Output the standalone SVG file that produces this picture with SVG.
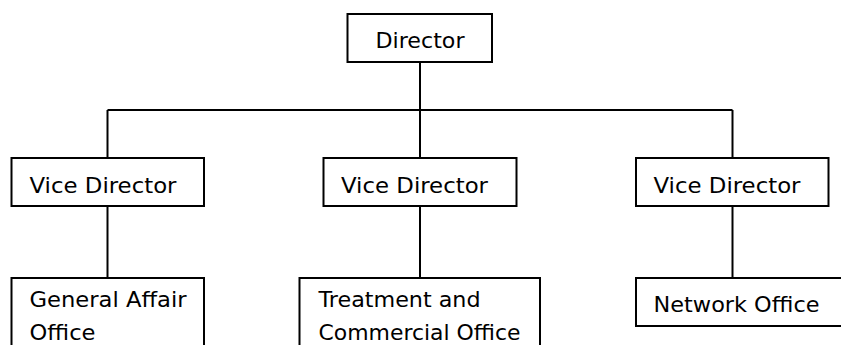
<svg xmlns="http://www.w3.org/2000/svg" width="841" height="345" viewBox="0 0 841 345">
<style>
.box{fill:#fff;stroke:#000;stroke-width:2}
.ln{stroke:#000;stroke-width:2;fill:none}
text{font-family:"DejaVu Sans","Noto Sans CJK JP",sans-serif;font-size:22px;fill:#000}
</style>
<rect width="841" height="345" fill="#fff"/>
<g id="connectors">
<line class="ln" x1="420" y1="62" x2="420" y2="110"/>
<line class="ln" x1="107.5" y1="110" x2="732.5" y2="110"/>
<line class="ln" x1="107.5" y1="110" x2="107.5" y2="158"/>
<line class="ln" x1="420" y1="110" x2="420" y2="158"/>
<line class="ln" x1="732.5" y1="110" x2="732.5" y2="158"/>
<line class="ln" x1="107.5" y1="206" x2="107.5" y2="278"/>
<line class="ln" x1="420" y1="206" x2="420" y2="278"/>
<line class="ln" x1="732.5" y1="206" x2="732.5" y2="278"/>
</g>
<g id="director">
<rect class="box" x="347.5" y="14" width="144.5" height="48"/>
<text x="375.5" y="48" textLength="89" lengthAdjust="spacingAndGlyphs">Director</text>
</g>
<g id="vice1">
<rect class="box" x="11.5" y="158" width="192.5" height="48"/>
<text x="29.5" y="192.5" textLength="147" lengthAdjust="spacingAndGlyphs">Vice Director</text>
</g>
<g id="vice2">
<rect class="box" x="323.5" y="158" width="193" height="48"/>
<text x="341" y="192.5" textLength="147" lengthAdjust="spacingAndGlyphs">Vice Director</text>
</g>
<g id="vice3">
<rect class="box" x="636" y="158" width="192.5" height="48"/>
<text x="653.5" y="192.5" textLength="147" lengthAdjust="spacingAndGlyphs">Vice Director</text>
</g>
<g id="general-affair">
<rect class="box" x="11.5" y="278" width="192.5" height="80"/>
<text x="29.5" y="306.5" textLength="157" lengthAdjust="spacingAndGlyphs">General  Affair</text>
<text x="29.5" y="340" textLength="66" lengthAdjust="spacingAndGlyphs">Office</text>
</g>
<g id="treatment">
<rect class="box" x="299.5" y="278" width="240.5" height="80"/>
<text x="318.5" y="306.5" textLength="162" lengthAdjust="spacingAndGlyphs">Treatment and</text>
<text x="318.5" y="340" textLength="202" lengthAdjust="spacingAndGlyphs">Commercial Office</text>
</g>
<g id="network">
<rect class="box" x="636" y="278" width="215" height="48"/>
<text x="653.5" y="312" textLength="166" lengthAdjust="spacingAndGlyphs">Network Office</text>
</g>
</svg>
